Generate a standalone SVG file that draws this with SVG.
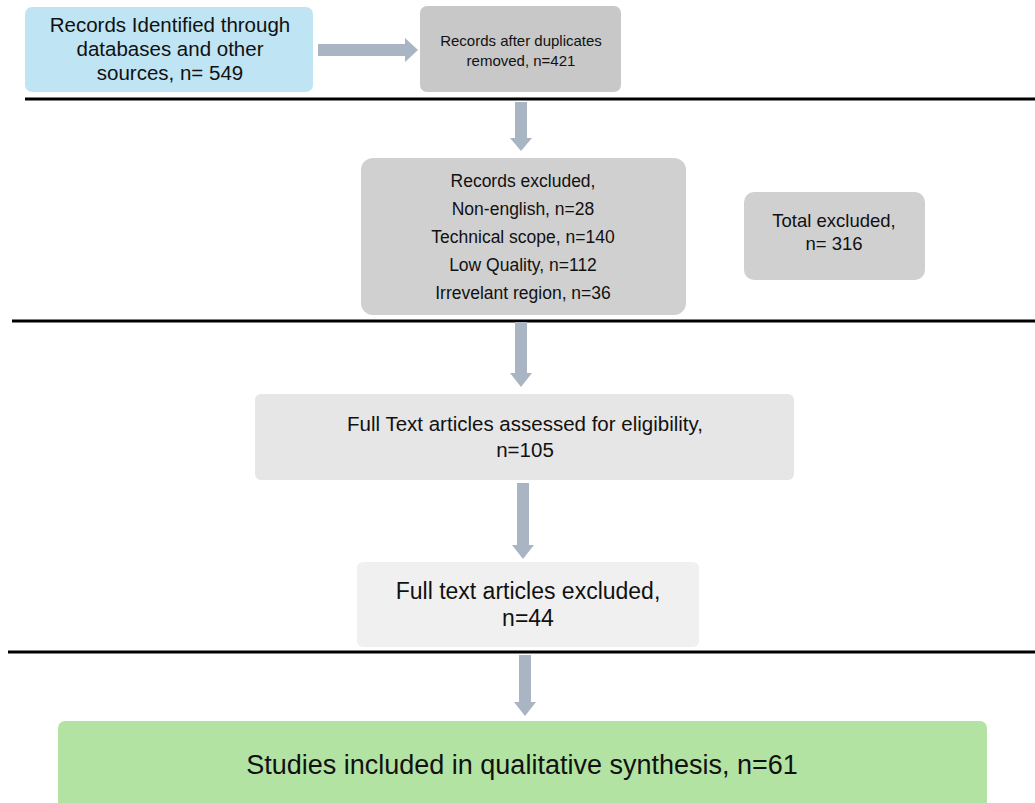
<svg xmlns="http://www.w3.org/2000/svg" width="1035" height="803" viewBox="0 0 1035 803">
<style>
.t{font-family:"Liberation Sans",Arial,sans-serif;fill:#111;text-anchor:middle}
.arr{fill:#a9b5c2}
.sep{stroke:#000;stroke-width:3}
</style>
<rect width="1035" height="803" fill="#fff"/>
<g id="separators">
<line class="sep" x1="25" y1="99" x2="1035" y2="99"/>
<line class="sep" x1="12" y1="321" x2="1035" y2="321"/>
<line class="sep" x1="8" y1="652" x2="1035" y2="652"/>
</g>
<g id="connectors">
<polygon class="arr" points="318,44 405,44 405,38 418,50 405,62 405,56 318,56"/>
<polygon class="arr" points="515,102 527,102 527,138 532,138 521,151 510,138 515,138"/>
<polygon class="arr" points="515,322 527,322 527,373 532,373 521,387 510,373 515,373"/>
<polygon class="arr" points="517,483 529,483 529,545 534,545 523,559 512,545 517,545"/>
<polygon class="arr" points="519,655 531,655 531,702 536,702 525,716 514,702 519,702"/>
</g>
<g id="n1">
<rect x="25" y="7" width="288" height="85" rx="7" fill="#bfe4f4"/>
<text class="t" font-size="20.5"><tspan x="170" y="32">Records Identified through</tspan><tspan x="170" y="56">databases and other</tspan><tspan x="170" y="80">sources, n= 549</tspan></text>
</g>
<g id="n2">
<rect x="420" y="6" width="201" height="86" rx="7" fill="#c8c8c8"/>
<text class="t" font-size="15"><tspan x="521" y="46">Records after duplicates</tspan><tspan x="521" y="66">removed, n=421</tspan></text>
</g>
<g id="n3">
<rect x="361" y="158" width="325" height="157" rx="12" fill="#d0d0d0"/>
<text class="t" font-size="17.5"><tspan x="523" y="187">Records excluded,</tspan><tspan x="523" y="215">Non-english, n=28</tspan><tspan x="523" y="243">Technical scope, n=140</tspan><tspan x="523" y="271">Low Quality, n=112</tspan><tspan x="523" y="299">Irrevelant region, n=36</tspan></text>
</g>
<g id="n4">
<rect x="744" y="192" width="181" height="88" rx="10" fill="#d0d0d0"/>
<text class="t" font-size="18.5"><tspan x="834" y="227">Total excluded,</tspan><tspan x="834" y="250">n= 316</tspan></text>
</g>
<g id="n5">
<rect x="255" y="394" width="539" height="86" rx="6" fill="#e6e6e6"/>
<text class="t" font-size="20.5"><tspan x="525" y="431">Full Text articles assessed for eligibility,</tspan><tspan x="525" y="457">n=105</tspan></text>
</g>
<g id="n6">
<rect x="357" y="562" width="342" height="85" rx="6" fill="#f0f0f0"/>
<text class="t" font-size="23"><tspan x="528" y="599">Full text articles excluded,</tspan><tspan x="528" y="626">n=44</tspan></text>
</g>
<g id="n7">
<rect x="58" y="721" width="929" height="90" rx="7" fill="#b3e3a2"/>
<text class="t" font-size="27" x="522" y="774">Studies included in qualitative synthesis, n=61</text>
</g>
</svg>
